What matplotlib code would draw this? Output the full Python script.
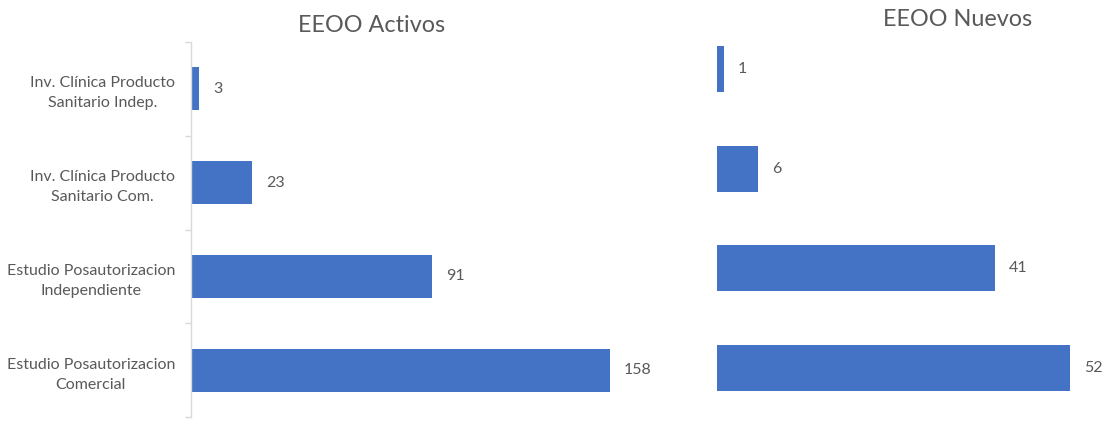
import matplotlib
matplotlib.use("Agg")
import matplotlib.pyplot as plt

categories = ["Inv. Clínica Producto\nSanitario Indep.",
              "Inv. Clínica Producto\nSanitario Com.",
              "Estudio Posautorizacion\nIndependiente",
              "Estudio Posautorizacion\nComercial"]
activos = [3, 23, 91, 158]
nuevos = [1, 6, 41, 52]
title_left = "EEOO Activos"
title_right = "EEOO Nuevos"

plt.rcParams['font.family'] = ['Lato', 'DejaVu Sans']
BAR = "#4472C4"
GRAY = "#595959"
W, H = 1104, 422
fig = plt.figure(figsize=(W / 100, H / 100), dpi=100)

def axes_px(x0, y0, x1, y1):
    return fig.add_axes([x0 / W, 1 - y1 / H, (x1 - x0) / W, (y1 - y0) / H])

def draw(ax, vals, scale, show_labels):
    n = len(vals)
    pos = list(range(n))
    ax.barh(pos, vals, height=0.46, color=BAR, linewidth=0)
    ax.set_ylim(n - 0.5, -0.5)
    width_px = ax.get_position().width * W
    ax.set_xlim(0, width_px / scale)
    ax.set_xticks([])
    for s in ["top", "right", "bottom"]:
        ax.spines[s].set_visible(False)
    for p, v in zip(pos, vals):
        ax.annotate(str(v), (v, p), xytext=(10, 0), textcoords="offset points",
                    va="center", ha="left", fontsize=11.5, color=GRAY)
    if show_labels:
        ax.spines["left"].set_color("#D9D9D9")
        ax.spines["left"].set_linewidth(1.0)
        ax.set_yticks(pos)
        ax.set_yticklabels(categories, fontsize=11.5, color=GRAY, linespacing=1.55)
        for lab in ax.get_yticklabels():
            lab.set_multialignment("center")
        ax.tick_params(axis="y", which="major", length=0, pad=11.5)
        ax.set_yticks([i - 0.5 for i in range(n + 1)], minor=True)
        ax.tick_params(axis="y", which="minor", length=4, color="#D9D9D9", width=1.0)
    else:
        ax.spines["left"].set_visible(False)
        ax.set_yticks([])

axL = axes_px(191, 42, 651, 417)
draw(axL, activos, 2.652, True)
axR = axes_px(717, 19, 1087, 418)
draw(axR, nuevos, 6.79, False)

fig.text(372 / W, 1 - 26 / H, title_left, ha="center", va="center", fontsize=16.8, color=GRAY)
fig.text(958 / W, 1 - 20 / H, title_right, ha="center", va="center", fontsize=16.8, color=GRAY)

fig.savefig("out.png", dpi=100, facecolor="white")
